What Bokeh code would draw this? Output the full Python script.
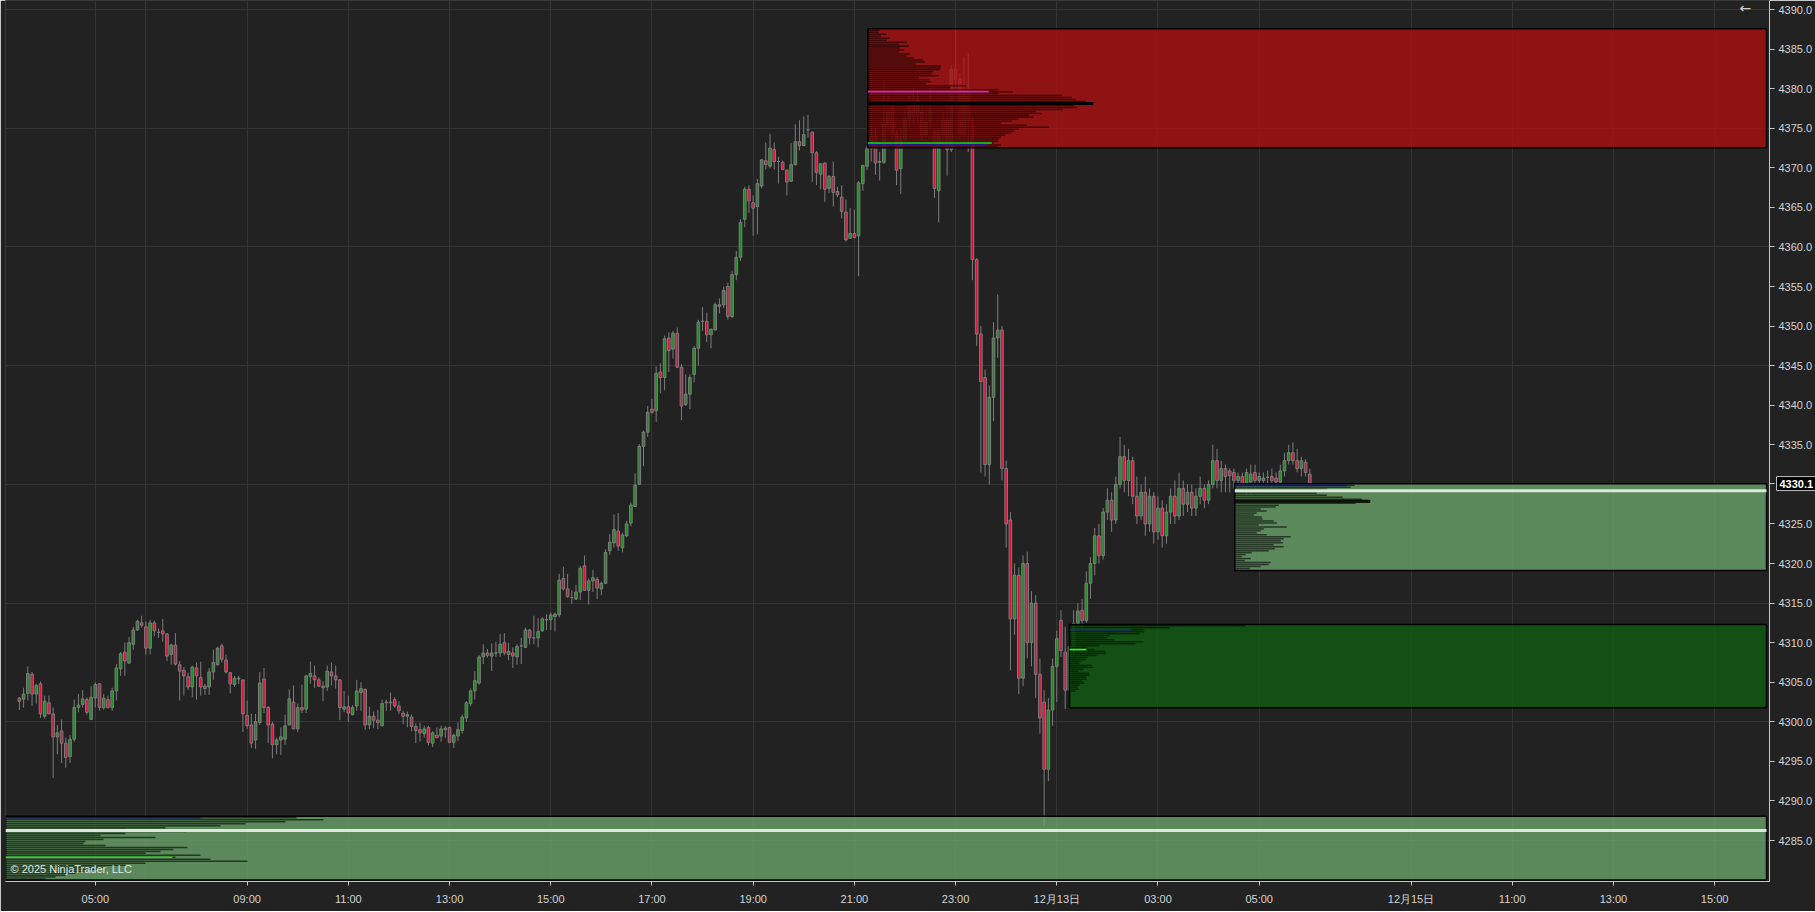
import numpy as np
from bokeh.plotting import figure
from bokeh.models import FixedTicker, PrintfTickFormatter, Label, ColumnDataSource
from bokeh.embed import file_html
from bokeh.resources import INLINE

# ---------------- data: 5-minute bars (bar index 0 = 03:30) ----------------
opens = [
 4303.0, 4302.85, 4303.6, 4306.0, 4303.5, 4304.8, 4300.7, 4302.4, 4301.0, 4298.1,
 4298.85, 4297.3, 4295.6, 4297.8, 4301.8, 4302.2, 4302.8, 4300.3, 4303.0, 4304.8,
 4301.8, 4302.8, 4301.8, 4303.9, 4306.7, 4308.8, 4307.4, 4309.8, 4311.6, 4312.5,
 4312.0, 4309.3, 4312.5, 4311.3, 4311.5, 4311.1, 4308.5, 4309.7, 4307.2, 4306.5,
 4305.7, 4304.4, 4306.8, 4305.6, 4304.5, 4304.4, 4306.3, 4307.2, 4309.6, 4307.8,
 4306.2, 4304.7, 4305.4, 4305.3, 4300.8, 4299.6, 4297.7, 4299.9, 4305.4, 4301.8,
 4299.7, 4297.1, 4297.7, 4297.8, 4299.6, 4302.5, 4299.1, 4301.8, 4301.6, 4305.7,
 4305.8, 4305.3, 4304.5, 4304.4, 4306.3, 4305.8, 4305.3, 4301.6, 4301.9, 4300.9,
 4302.0, 4303.7, 4304.1, 4299.6, 4300.7, 4300.2, 4299.5, 4302.5, 4302.4, 4302.8,
 4302.0, 4301.1, 4300.7, 4300.6, 4299.4, 4299.0, 4298.5, 4299.3, 4297.3, 4298.3,
 4298.2, 4299.0, 4299.3, 4297.4, 4298.2, 4298.9, 4300.5, 4302.3, 4303.9, 4304.9,
 4308.2, 4308.7, 4308.3, 4308.7, 4308.7, 4310.0, 4308.5, 4308.7, 4308.2, 4309.6,
 4309.4, 4311.6, 4310.6, 4310.6, 4311.5, 4312.9, 4312.9, 4313.3, 4313.5, 4318.1,
 4316.8, 4315.7, 4315.5, 4316.4, 4319.7, 4316.6, 4317.8, 4318.0, 4316.8, 4317.5,
 4321.6, 4322.6, 4324.1, 4322.0, 4323.5, 4325.1, 4327.2, 4330.0, 4334.8, 4336.6,
 4339.5, 4339.3, 4344.2, 4343.5, 4348.5, 4347.1, 4349.1, 4344.8, 4340.1, 4341.4,
 4343.9, 4347.2, 4350.6, 4350.6, 4348.9, 4349.5, 4352.5, 4352.7, 4355.0, 4351.2,
 4356.5, 4358.7, 4363.5, 4367.3, 4365.6, 4365.1, 4367.7, 4370.9, 4370.2, 4372.3,
 4370.8, 4370.7, 4369.7, 4368.3, 4370.4, 4373.3, 4372.8, 4374.8, 4374.5, 4371.9,
 4369.2, 4370.6, 4367.4, 4368.9, 4367.0, 4366.3, 4364.4, 4361.1, 4361.7, 4361.4,
 4368.0, 4370.2, 4372.4, 4374.0, 4370.7, 4370.7, 4375.5, 4377.6, 4374.3, 4369.9,
 4373.5, 4376.2, 4378.0, 4376.5, 4377.0, 4374.3, 4375.8, 4374.5, 4367.1, 4374.2,
 4376.0, 4372.3, 4382.4, 4381.2, 4374.3, 4379.5, 4376.0, 4358.4, 4349.0, 4343.5,
 4332.5, 4341.0, 4348.5, 4349.5, 4332.0, 4325.5, 4313.0, 4318.5, 4305.5, 4320.0,
 4310.0, 4315.0, 4306.0, 4302.5, 4294.0, 4301.5, 4307.0, 4312.8, 4308.8, 4304.0,
 4309.5, 4312.4, 4314.1, 4312.8, 4317.5, 4320.0, 4323.5, 4321.0, 4326.5, 4328.0,
 4325.5, 4330.0, 4333.5, 4330.5, 4333.0, 4328.5, 4326.0, 4329.0, 4325.0, 4328.5,
 4324.0, 4327.0, 4323.5, 4326.5, 4328.5, 4326.0, 4329.5, 4327.5, 4329.0, 4327.0,
 4328.5, 4329.5, 4328.0, 4330.0, 4333.0, 4330.5, 4332.0, 4331.7, 4331.5, 4330.5,
 4331.0, 4330.0, 4330.3, 4331.5, 4330.5, 4330.5, 4330.9, 4331.0, 4330.8, 4330.3,
 4331.7, 4333.0, 4334.0, 4333.0, 4332.0, 4332.8, 4331.3]
highs = [
 4303.1, 4304.3, 4307.0, 4306.3, 4304.8, 4305.1, 4303.3, 4303.3, 4301.8, 4299.6,
 4300.3, 4298.0, 4298.3, 4302.8, 4303.5, 4304.0, 4303.1, 4304.5, 4305.0, 4304.9,
 4303.5, 4303.3, 4304.3, 4307.3, 4308.8, 4310.0, 4310.7, 4312.0, 4312.9, 4313.4,
 4312.7, 4312.9, 4312.8, 4311.8, 4313.0, 4311.2, 4309.9, 4311.2, 4307.7, 4306.9,
 4306.2, 4307.1, 4307.5, 4307.6, 4304.8, 4306.8, 4309.1, 4309.5, 4309.9, 4308.5,
 4306.3, 4305.8, 4305.8, 4305.3, 4302.7, 4301.0, 4301.0, 4306.3, 4306.8, 4302.0,
 4300.0, 4298.0, 4299.3, 4300.9, 4304.1, 4304.6, 4302.3, 4304.7, 4305.9, 4307.6,
 4307.1, 4305.6, 4305.1, 4307.1, 4307.5, 4307.1, 4305.4, 4303.9, 4303.3, 4302.1,
 4305.3, 4305.0, 4304.2, 4301.9, 4301.3, 4301.5, 4302.8, 4302.8, 4303.7, 4303.1,
 4302.6, 4301.4, 4301.3, 4300.9, 4299.8, 4299.9, 4299.5, 4299.5, 4298.8, 4299.3,
 4299.5, 4299.5, 4299.3, 4298.5, 4299.9, 4300.9, 4302.6, 4304.2, 4306.4, 4308.4,
 4309.8, 4309.2, 4309.9, 4310.1, 4311.1, 4311.2, 4310.0, 4309.4, 4309.8, 4310.6,
 4311.9, 4311.7, 4313.4, 4313.1, 4313.2, 4313.6, 4313.8, 4313.8, 4318.7, 4319.6,
 4318.7, 4316.6, 4317.3, 4319.7, 4321.0, 4318.1, 4319.2, 4318.3, 4317.7, 4321.8,
 4323.7, 4326.2, 4326.4, 4323.9, 4325.4, 4327.7, 4331.4, 4335.1, 4336.8, 4339.9,
 4340.8, 4344.9, 4345.3, 4348.8, 4349.2, 4349.4, 4349.8, 4345.2, 4343.9, 4343.9,
 4347.5, 4350.8, 4352.4, 4351.7, 4349.7, 4353.0, 4353.5, 4355.0, 4355.5, 4357.0,
 4359.5, 4363.5, 4367.6, 4367.8, 4366.5, 4368.6, 4371.1, 4373.2, 4374.3, 4373.2,
 4371.4, 4370.9, 4369.8, 4373.1, 4375.5, 4376.0, 4376.5, 4376.7, 4374.6, 4372.1,
 4370.6, 4370.7, 4369.1, 4370.8, 4367.6, 4367.8, 4366.0, 4364.9, 4364.7, 4368.3,
 4370.4, 4372.8, 4375.2, 4375.0, 4372.0, 4381.0, 4379.3, 4378.5, 4374.8, 4375.0,
 4377.5, 4379.5, 4380.5, 4379.8, 4377.5, 4377.0, 4380.0, 4375.0, 4375.0, 4377.0,
 4378.5, 4383.0, 4387.5, 4382.0, 4384.0, 4384.5, 4376.5, 4358.6, 4350.0, 4344.5,
 4342.5, 4350.5, 4354.0, 4350.0, 4333.0, 4326.5, 4320.0, 4319.5, 4321.0, 4321.5,
 4316.5, 4316.0, 4308.0, 4304.0, 4303.0, 4308.0, 4311.5, 4314.1, 4312.0, 4311.0,
 4314.1, 4315.0, 4315.5, 4319.0, 4320.8, 4324.5, 4325.0, 4327.0, 4329.5, 4329.0,
 4331.0, 4336.0, 4335.0, 4334.5, 4333.5, 4331.0, 4330.0, 4331.0, 4329.5, 4329.0,
 4328.5, 4328.0, 4327.5, 4329.5, 4330.5, 4331.5, 4330.5, 4330.0, 4330.0, 4329.5,
 4331.0, 4330.0, 4330.5, 4335.0, 4334.5, 4333.0, 4332.5, 4332.0, 4332.0, 4331.5,
 4331.5, 4332.0, 4332.5, 4332.5, 4331.5, 4331.5, 4331.8, 4332.0, 4331.5, 4332.5,
 4334.0, 4335.0, 4335.3, 4334.5, 4333.5, 4333.2, 4332.0]
lows = [
 4301.5, 4301.8, 4302.7, 4302.0, 4302.3, 4300.5, 4300.4, 4301.0, 4292.9, 4295.9,
 4294.8, 4294.2, 4294.8, 4297.5, 4301.2, 4301.8, 4300.9, 4300.3, 4301.8, 4301.4,
 4301.5, 4301.7, 4301.4, 4302.7, 4305.8, 4305.8, 4307.4, 4309.1, 4311.5, 4311.9,
 4308.5, 4308.5, 4310.8, 4310.6, 4310.1, 4307.7, 4307.2, 4307.1, 4302.7, 4303.3,
 4304.0, 4303.1, 4302.8, 4303.3, 4303.4, 4303.4, 4305.3, 4307.1, 4307.5, 4306.1,
 4303.6, 4304.4, 4304.8, 4298.7, 4299.1, 4296.7, 4296.6, 4299.6, 4301.1, 4297.3,
 4295.4, 4295.9, 4295.8, 4297.1, 4299.6, 4299.1, 4298.7, 4301.1, 4301.1, 4304.8,
 4304.3, 4304.5, 4302.6, 4303.9, 4304.6, 4304.2, 4300.2, 4301.2, 4300.0, 4300.8,
 4301.4, 4301.4, 4299.0, 4299.1, 4299.2, 4299.1, 4299.4, 4301.4, 4301.4, 4301.8,
 4301.0, 4299.7, 4299.3, 4298.8, 4297.3, 4297.5, 4298.0, 4297.0, 4296.8, 4297.9,
 4297.5, 4298.0, 4297.3, 4296.7, 4297.6, 4298.5, 4300.0, 4302.0, 4302.8, 4304.7,
 4307.3, 4308.1, 4306.4, 4308.2, 4308.2, 4308.4, 4307.8, 4306.8, 4307.2, 4307.3,
 4309.4, 4309.8, 4309.8, 4309.4, 4311.4, 4311.6, 4311.6, 4311.4, 4313.2, 4316.6,
 4315.7, 4314.9, 4315.4, 4315.4, 4316.6, 4314.8, 4316.4, 4315.5, 4316.0, 4317.4,
 4321.1, 4322.0, 4321.6, 4321.4, 4323.3, 4324.7, 4327.2, 4329.9, 4332.3, 4336.0,
 4338.9, 4337.9, 4341.5, 4341.9, 4344.2, 4345.9, 4344.8, 4338.1, 4339.9, 4339.5,
 4342.9, 4345.0, 4349.4, 4348.0, 4347.2, 4349.5, 4351.6, 4352.3, 4350.8, 4351.0,
 4355.8, 4358.2, 4362.5, 4364.3, 4361.4, 4361.6, 4367.4, 4369.8, 4369.9, 4369.8,
 4368.0, 4369.7, 4366.5, 4368.2, 4370.3, 4372.2, 4372.8, 4373.8, 4368.2, 4367.8,
 4367.3, 4365.7, 4366.8, 4365.1, 4366.3, 4363.6, 4360.7, 4361.1, 4361.1, 4356.3,
 4367.1, 4369.7, 4370.8, 4369.1, 4368.4, 4370.5, 4374.5, 4373.5, 4367.8, 4366.7,
 4372.8, 4375.0, 4375.5, 4375.8, 4373.5, 4373.8, 4375.0, 4366.2, 4363.1, 4372.5,
 4369.0, 4372.0, 4379.5, 4373.5, 4373.5, 4372.0, 4355.8, 4347.5, 4331.5, 4331.0,
 4330.0, 4338.0, 4346.0, 4330.5, 4322.0, 4306.5, 4311.0, 4303.5, 4304.5, 4308.0,
 4307.0, 4303.0, 4298.5, 4286.8, 4292.5, 4299.5, 4302.5, 4308.2, 4301.6, 4303.0,
 4308.5, 4311.5, 4311.8, 4312.5, 4315.5, 4318.5, 4320.0, 4320.5, 4325.5, 4324.0,
 4325.0, 4329.5, 4329.0, 4328.5, 4327.5, 4325.0, 4325.5, 4323.5, 4324.0, 4322.5,
 4323.0, 4322.0, 4322.5, 4325.0, 4325.0, 4325.5, 4326.0, 4326.5, 4326.0, 4326.0,
 4327.5, 4327.0, 4327.5, 4329.5, 4329.5, 4329.0, 4329.0, 4329.0, 4329.5, 4329.0,
 4329.5, 4328.5, 4328.5, 4329.0, 4329.5, 4329.5, 4329.8, 4329.5, 4329.5, 4330.0,
 4331.0, 4332.5, 4332.5, 4331.5, 4331.0, 4331.0, 4330.0]
closes = [
 4302.6, 4303.5, 4306.1, 4303.5, 4304.6, 4301.0, 4302.6, 4301.0, 4298.1, 4298.6,
 4297.3, 4295.5, 4297.8, 4301.8, 4302.1, 4302.9, 4301.2, 4303.1, 4304.7, 4301.8,
 4303.0, 4301.8, 4303.9, 4306.8, 4308.6, 4307.7, 4310.0, 4311.6, 4312.7, 4312.2,
 4309.3, 4312.5, 4311.5, 4311.3, 4311.1, 4308.3, 4309.7, 4307.3, 4306.4, 4305.8,
 4304.4, 4306.9, 4305.8, 4304.4, 4304.2, 4306.3, 4307.5, 4309.3, 4307.9, 4306.3,
 4304.8, 4305.5, 4305.5, 4301.0, 4299.5, 4297.3, 4300.0, 4304.9, 4301.8, 4299.6,
 4297.1, 4297.7, 4298.1, 4299.5, 4302.9, 4299.1, 4301.8, 4301.5, 4305.8, 4306.1,
 4305.3, 4304.5, 4304.3, 4306.4, 4305.8, 4305.3, 4301.8, 4301.9, 4301.1, 4301.8,
 4303.9, 4304.2, 4299.6, 4300.7, 4300.2, 4299.9, 4302.3, 4302.4, 4302.5, 4302.0,
 4301.4, 4300.7, 4300.9, 4299.4, 4298.9, 4298.6, 4299.1, 4297.4, 4298.6, 4298.0,
 4299.1, 4299.2, 4297.4, 4298.3, 4299.0, 4300.6, 4302.4, 4303.9, 4305.2, 4308.2,
 4308.7, 4308.4, 4308.7, 4308.7, 4309.8, 4308.7, 4308.9, 4308.3, 4309.5, 4309.6,
 4311.6, 4310.6, 4310.6, 4311.4, 4313.0, 4312.9, 4313.5, 4313.6, 4317.9, 4316.8,
 4315.8, 4315.7, 4316.4, 4319.4, 4316.6, 4317.8, 4318.2, 4316.9, 4317.5, 4321.4,
 4322.7, 4324.3, 4322.2, 4323.6, 4325.0, 4327.4, 4329.9, 4334.8, 4336.6, 4339.1,
 4339.1, 4344.0, 4343.5, 4348.4, 4346.9, 4349.1, 4344.8, 4339.9, 4341.4, 4343.5,
 4347.2, 4350.5, 4350.6, 4348.9, 4349.6, 4352.7, 4352.7, 4354.5, 4351.2, 4356.5,
 4358.7, 4363.1, 4367.3, 4365.8, 4364.9, 4368.0, 4371.0, 4370.4, 4372.5, 4370.8,
 4370.8, 4369.8, 4368.2, 4370.4, 4373.3, 4372.8, 4374.2, 4374.8, 4371.9, 4369.4,
 4370.5, 4367.3, 4368.9, 4366.9, 4366.6, 4364.5, 4360.9, 4361.7, 4361.2, 4368.1,
 4370.3, 4372.4, 4374.0, 4370.6, 4370.8, 4375.5, 4377.0, 4374.3, 4369.7, 4373.5,
 4376.2, 4378.0, 4376.5, 4378.5, 4374.2, 4375.8, 4377.5, 4367.4, 4374.2, 4376.0,
 4372.3, 4382.4, 4381.2, 4374.3, 4379.5, 4376.0, 4358.4, 4349.0, 4343.0, 4332.5,
 4341.0, 4348.5, 4349.5, 4332.0, 4325.0, 4313.0, 4318.5, 4305.5, 4320.0, 4310.0,
 4315.0, 4306.0, 4300.5, 4294.0, 4301.5, 4307.0, 4310.5, 4309.0, 4304.0, 4309.5,
 4312.4, 4314.0, 4312.8, 4317.5, 4320.0, 4323.5, 4321.0, 4326.5, 4328.0, 4325.5,
 4330.0, 4333.5, 4330.5, 4333.0, 4328.5, 4326.0, 4329.0, 4325.0, 4328.5, 4324.0,
 4327.0, 4323.5, 4326.5, 4328.5, 4326.0, 4329.5, 4327.5, 4329.0, 4327.0, 4328.5,
 4329.5, 4328.0, 4330.0, 4333.0, 4330.5, 4332.0, 4331.0, 4331.1, 4330.5, 4331.0,
 4330.0, 4331.5, 4331.3, 4330.5, 4331.0, 4330.8, 4330.9, 4330.5, 4330.3, 4331.7,
 4333.0, 4334.0, 4333.0, 4332.0, 4333.0, 4331.5, 4330.1]
bar_index = list(range(len(closes)))
last_price = 4330.1

tick_index = [18, 54, 78, 102, 126, 150, 174, 198, 222, 246, 270, 294, 330, 354, 378, 402]
tick_labels = ["05:00", "09:00", "11:00", "13:00", "15:00", "17:00", "19:00", "21:00",
               "23:00", "12月13日", "03:00", "05:00", "12月15日", "11:00", "13:00", "15:00"]
session_open_index = [30]
price_ticks = [4285, 4290, 4295, 4300, 4305, 4310, 4315, 4320, 4325, 4330.1, 4335, 4340,
               4345, 4350, 4355, 4360, 4365, 4370, 4375, 4380, 4385, 4390]
grid_prices = [4285, 4300, 4315, 4330, 4345, 4360, 4375, 4390]

# ---------------- volume profiles (rows of 0.25 pt, volumes in relative units) ----------------
TICK = 0.25
red_box = dict(left=201.2, top=4387.56, bottom=4372.53)
red_top_row = 4387.375
red_vol = [12, 11, 19, 13, 22, 19, 39, 31, 41, 32, 36, 31, 42, 39, 46, 55, 57, 48, 73, 73,
           72, 65, 64, 71, 51, 61, 63, 58, 98, 83, 130, 145, 130, 194, 204, 208, 218, 225, 206, 209,
           195, 168, 174, 161, 166, 151, 144, 133, 159, 181, 151, 146, 143, 137, 133, 131, 130, 126, 133, 129]
red_poc = 4378.125
red_marks = [(4379.625, 121, "#e020d0"), (4373.125, 124, "#10e010"), (4372.875, 120, "#1020c0")]

up_box = dict(left=288.2, top=4330.07, bottom=4319.11)
up_top_row = 4329.875
up_vol = [120, 116, 92, 71, 82, 92, 108, 127, 135, 121, 44, 41, 26, 32, 22, 19, 27, 28, 39, 42,
          24, 52, 29, 26, 22, 32, 56, 49, 46, 48, 39, 49, 40, 34, 17, 11, 7, 16, 10, 36,
          34, 26, 15, 6]
up_poc = 4327.875
up_marks = [(4329.875, 112, "#101080")]
up_poc_line = 4329.18

dg_box = dict(left=249.0, top=4312.29, bottom=4301.76)
dg_top_row = 4312.125
dg_vol = [176, 100, 74, 75, 70, 40, 38, 45, 74, 66, 30, 18, 25, 36, 36, 27, 18, 16, 12, 10,
          22, 24, 14, 9, 20, 20, 17, 17, 13, 15, 10, 8, 9, 6]
dg_marks = [(4311.625, 62, "#1a2a9a"), (4309.125, 17, "#20ff20")]

lo_box = dict(left=-3.3, top=4288.07, bottom=4280.0)
lo_top_row = 4287.875
lo_vol = [291, 318, 280, 240, 215, 160, 120, 180, 120, 95, 150, 98, 80, 78, 100, 182, 168, 155,
          140, 195, 170, 205, 242, 140, 120, 100, 95, 80, 70, 60, 50, 40]
lo_marks = [(4287.875, 195, "#101070"), (4282.875, 167, "#20e020")]
lo_poc_line = 4286.25

# ---------------- figure ----------------
PX_PER_BAR = 4.217
FRAME_W, FRAME_H = 1764, 881
x0 = -3.296
x1 = x0 + FRAME_W / PX_PER_BAR
BOX_RIGHT = x1 - 0.7
BOX_ALPHA = 0.78

p = figure(frame_width=FRAME_W, frame_height=FRAME_H,
           x_range=(x0, x1), y_range=(4279.82, 4391.14),
           y_axis_location="right", output_backend="svg", toolbar_location=None,
           min_border_left=5, min_border_top=0, min_border_right=45, min_border_bottom=30,
           background_fill_color="#222222", border_fill_color="#222222",
           outline_line_color="#3a3a3a", outline_line_width=1)

p.xgrid.ticker = FixedTicker(ticks=tick_index + session_open_index)
p.ygrid.ticker = FixedTicker(ticks=grid_prices)
p.grid.grid_line_color = "#343434"
p.grid.grid_line_width = 1

for ax in (p.xaxis[0], p.yaxis[0]):
    ax.axis_line_color = "#c8c8c8"
    ax.major_tick_line_color = "#c8c8c8"
    ax.major_tick_in = 0
    ax.major_tick_out = 4
    ax.minor_tick_line_color = None
    ax.major_label_text_color = "#d4d4d4"
    ax.major_label_text_font = "Liberation Sans"
    ax.major_label_text_font_size = "11px"
p.xaxis.ticker = FixedTicker(ticks=tick_index)
p.xaxis.major_label_overrides = {t: l for t, l in zip(tick_index, tick_labels)}
p.xaxis.major_label_standoff = 7
p.yaxis.ticker = FixedTicker(ticks=price_ticks)
p.yaxis.formatter = PrintfTickFormatter(format="%.1f")
p.yaxis.major_tick_out = 5
p.yaxis.major_label_standoff = 4

# candles
up_col, dn_col, flat_col = "#228b22", "#dc143c", "#8a8a8a"
colors = [up_col if c > o else (dn_col if c < o else flat_col) for o, c in zip(opens, closes)]
src = ColumnDataSource(dict(x=bar_index, o=opens, h=highs, l=lows, c=closes,
                            top=[max(o, c) for o, c in zip(opens, closes)],
                            bot=[min(o, c) for o, c in zip(opens, closes)],
                            col=colors))
p.segment(x0="x", y0="l", x1="x", y1="h", source=src, line_color="#7d7d7d", line_width=1)
p.vbar(x="x", top="top", bottom="bot", width=0.62, source=src,
       fill_color="col", line_color="#7d7d7d", line_width=1)


def draw_profile(box, fill, top_row, vols, bar_alpha, poc=None, poc_fill=None, marks=(), poc_line=None):
    p.quad(left=[box["left"]], right=[BOX_RIGHT], top=[box["top"]], bottom=[box["bottom"]],
           fill_color=fill, fill_alpha=BOX_ALPHA, line_color="black", line_width=1.5)
    prices = [top_row - TICK * k for k in range(len(vols))]
    ys = [y for y, v in zip(prices, vols) if v > 0]
    rs = [box["left"] + v / PX_PER_BAR for v in vols if v > 0]
    p.hbar(y=ys, left=box["left"], right=rs, height=0.19,
           fill_color="black", fill_alpha=bar_alpha, line_color=None)
    if poc is not None:
        k = int(round((top_row - poc) / TICK))
        p.hbar(y=[poc], left=box["left"], right=[box["left"] + vols[k] / PX_PER_BAR], height=0.24,
               fill_color=poc_fill, line_color="black", line_width=1.2)
    for y, ln, col in marks:
        p.hbar(y=[y], left=box["left"], right=[box["left"] + ln / PX_PER_BAR], height=0.2,
               fill_color=col, line_color=None)
    if poc_line is not None:
        p.segment(x0=[box["left"]], y0=[poc_line], x1=[BOX_RIGHT], y1=[poc_line],
                  line_color="#dbe8db", line_width=3)


draw_profile(red_box, "#ae1010", red_top_row, red_vol, 0.55, poc=red_poc, poc_fill="#140404",
             marks=red_marks)
draw_profile(dg_box, "#105d10", dg_top_row, dg_vol, 0.5, marks=dg_marks)
draw_profile(up_box, "#6ba76b", up_top_row, up_vol, 0.6, poc=up_poc, poc_fill="#2e2e06",
             marks=up_marks, poc_line=up_poc_line)
draw_profile(lo_box, "#6ba76b", lo_top_row, lo_vol, 0.6, marks=lo_marks, poc_line=lo_poc_line)

# annotations
p.add_layout(Label(x=x1, y=last_price, text=f"{last_price:.1f}", x_offset=7,
                   text_align="left", text_baseline="middle", text_color="white",
                   text_font="Liberation Sans", text_font_size="11px", text_font_style="bold",
                   background_fill_color="black", border_line_color="#bdbdbd",
                   padding=3), "right")
p.add_layout(Label(x=-2.11, y=4281.46, text="© 2025 NinjaTrader, LLC", text_align="left",
                   text_baseline="middle", text_color="#e4e4e4", text_font="Liberation Sans",
                   text_font_size="11px"))
p.add_layout(Label(x=409.3, y=4390.15, text="←", text_align="center", text_baseline="middle",
                   text_color="#cfcfcf", text_font="DejaVu Sans", text_font_size="14px"))

open("out.html", "w").write(file_html(p, INLINE))
